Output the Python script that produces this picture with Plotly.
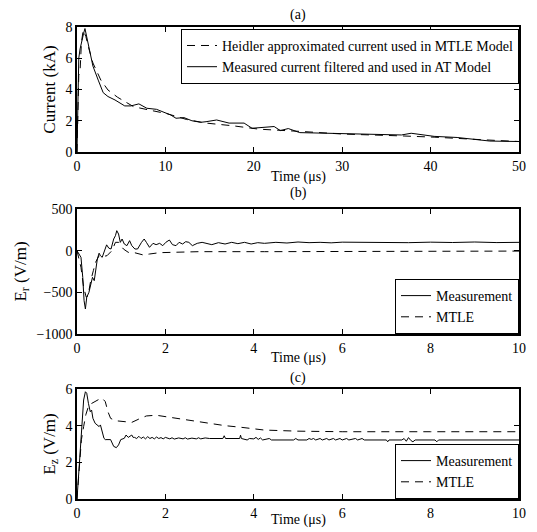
import plotly.graph_objects as go

# ---- panel (a): lightning current ----
t_a_meas = [0, 0.1, 0.2, 0.35, 0.55, 0.75, 0.9, 1.1, 1.4, 1.8, 2.4, 2.96, 3.5, 4.3, 5.4, 6.1, 7.0,
            7.9, 9.0, 9.8, 10.6, 11.2, 12.1, 13.0, 14.0, 14.6, 15.8, 17.2, 18.9, 19.8, 21.3,
            22.3, 23.0, 23.9, 25.2, 27.8, 29.6, 32.0, 34.5, 36.7, 37.8, 40.4, 43.0, 45.2,
            46.7, 50.0]
i_a_meas = [0, 3.5, 6.0, 6.6, 7.2, 7.6, 7.9, 7.4, 6.5, 5.5, 4.6, 3.8, 3.55, 3.33, 2.95, 2.95, 3.08,
            2.8, 2.73, 2.56, 2.37, 2.16, 2.2, 2.0, 1.9, 1.94, 2.05, 1.85, 1.85, 1.52, 1.6,
            1.63, 1.37, 1.5, 1.24, 1.2, 1.19, 1.15, 1.12, 1.09, 1.2, 1.0, 0.93, 0.8,
            0.7, 0.67]
t_a_heid = [0, 0.1, 0.2, 0.35, 0.5, 0.7, 1.0, 1.3, 1.8, 2.7, 3.5, 4.6, 6.4, 8.3, 10.2, 12.4,
            14.6, 17.6, 20.6, 25.2, 30.0, 36.7, 40.4, 46.0, 50.0]
i_a_heid = [0, 2.5, 4.9, 5.2, 7.0, 7.8, 7.4, 6.7, 5.7, 4.6, 3.97, 3.5, 2.9, 2.67, 2.45, 2.08,
            1.85, 1.68, 1.46, 1.32, 1.15, 1.03, 0.95, 0.78, 0.67]

# ---- panel (b): radial field ----
t_b_meas = [0, 0.09, 0.13, 0.16, 0.19, 0.22, 0.27, 0.31, 0.35, 0.39, 0.42, 0.46, 0.5, 0.53, 0.57,
            0.62, 0.67, 0.72, 0.77, 0.83, 0.87, 0.9, 0.94, 0.98, 1.02, 1.07, 1.13, 1.19, 1.24,
            1.31, 1.37, 1.46, 1.52, 1.57, 1.64, 1.72, 1.79, 1.87, 1.94, 2.01, 2.09, 2.16, 2.24,
            2.31, 2.39, 2.46, 2.53, 2.61, 2.72, 2.83, 2.94, 3.05, 3.2, 3.35, 3.5, 3.64, 3.79,
            3.94, 4.09, 4.24, 4.5, 4.75, 5.0, 5.25, 5.5, 5.75, 6.0, 6.5, 7.0, 7.5, 8.0, 8.5,
            9.0, 9.5, 10.0]
e_b_meas = [0, -80, -320, -600, -700, -560, -500, -400, -320, -360, -240, -100, -30, -60, -80,
            0, 70, 30, 20, 140, 180, 240, 200, 100, 140, 80, 60, 120, 60,
            20, 20, 100, 140, 100, 40, 88, 72, 88, 60, 100, 128, 72, 60,
            100, 80, 108, 100, 60, 88, 100, 88, 72, 96, 80, 100, 84, 100,
            80, 96, 88, 100, 92, 104, 96, 100, 94, 102, 98, 100, 96, 102, 98,
            104, 97, 100]
t_b_mtle = [0, 0.09, 0.15, 0.21, 0.25, 0.31, 0.37, 0.42, 0.5, 0.57, 0.68, 0.79, 0.87, 0.94,
            1.05, 1.16, 1.27, 1.5, 1.64, 1.87, 2.16, 2.76, 4.24, 6.0, 8.0, 10.0]
e_b_mtle = [0, -200, -440, -560, -540, -360, -240, -140, -60, -72, -60, 0, 100, 100,
            20, -20, -20, -52, -40, -24, -20, -12, -12, -8, -6, -5]

# ---- panel (c): vertical field ----
t_c_meas = [0, 0.05, 0.1, 0.15, 0.19, 0.22, 0.26, 0.3, 0.33, 0.36, 0.41, 0.46, 0.5, 0.53, 0.57,
            0.61, 0.64, 0.76, 0.83, 0.89, 0.94, 0.99, 1.07, 1.11, 1.16, 1.24, 1.27,
            1.3, 1.35, 1.4, 1.45, 1.5, 1.55, 1.6, 1.65, 1.7, 1.75, 1.8, 1.85, 1.9, 1.95, 2.0,
            2.1, 2.15, 2.2, 2.3, 2.4, 2.45, 2.5, 2.6, 2.7, 2.75, 2.8, 2.9, 3.0, 3.3, 3.33,
            3.36, 3.68, 3.7, 3.72, 3.85, 3.9, 4.0, 4.05, 4.1, 4.15, 4.2, 4.35, 4.4, 4.9, 4.95,
            5.0, 5.2, 5.25, 5.3, 5.35, 5.4, 5.5, 5.55, 5.65, 5.7, 5.8, 5.85, 5.95, 6.0, 6.1,
            6.15, 6.3, 6.35, 6.45, 6.5, 7.0, 7.03, 7.06, 7.35, 7.4, 7.45, 7.5, 7.55, 7.6, 7.65,
            8.1, 8.14, 8.18, 10.0]
e_c_meas = [0, 1.95, 4.1, 5.4, 5.85, 5.77, 5.2, 4.76, 4.85, 4.4, 4.13, 4.04, 3.95, 4.04, 3.68,
            3.31, 3.24, 3.24, 2.87, 2.8, 2.95, 3.24, 3.31, 3.49, 3.36, 3.49, 3.36,
            3.36, 3.3, 3.42, 3.3, 3.38, 3.28, 3.4, 3.3, 3.36, 3.28, 3.38, 3.3, 3.35, 3.28, 3.36,
            3.28, 3.34, 3.27, 3.33, 3.28, 3.34, 3.27, 3.32, 3.28, 3.34, 3.28, 3.33, 3.3, 3.3, 3.45,
            3.3, 3.3, 3.48, 3.3, 3.22, 3.3, 3.28, 3.36, 3.25, 3.33, 3.22, 3.3, 3.22, 3.22, 3.3,
            3.22, 3.22, 3.3, 3.25, 3.3, 3.22, 3.3, 3.22, 3.3, 3.22, 3.3, 3.22, 3.3, 3.22, 3.3,
            3.22, 3.3, 3.22, 3.3, 3.22, 3.22, 3.12, 3.22, 3.22, 3.3, 3.15, 3.35, 3.2, 3.12, 3.22,
            3.22, 3.12, 3.22, 3.22]
t_c_mtle = [0, 0.05, 0.1, 0.15, 0.2, 0.27, 0.39, 0.5, 0.57, 0.64, 0.7, 0.76, 0.87, 1.01, 1.24,
            1.39, 1.57, 1.79, 2.01, 2.31, 2.61, 2.98, 3.35, 3.72, 4.24, 5.0, 6.0, 8.0, 10.0]
e_c_mtle = [0, 1.5, 3.24, 3.95, 4.6, 5.13, 5.31, 5.44, 5.5, 5.31, 4.76, 4.4, 4.27, 4.22, 4.18,
            4.35, 4.53, 4.57, 4.49, 4.36, 4.26, 4.13, 4.0, 3.91, 3.76, 3.7, 3.67, 3.67, 3.67]

FONT = "Liberation Serif"
solid = dict(color="black", width=1)
dashed = dict(color="black", width=1, dash="8px,6px")

fig = go.Figure()
fig.add_trace(go.Scatter(x=t_a_heid, y=i_a_heid, mode="lines", line=dashed,
                         name="Heidler approximated current used in MTLE Model",
                         xaxis="x", yaxis="y", legend="legend"))
fig.add_trace(go.Scatter(x=t_a_meas, y=i_a_meas, mode="lines", line=solid,
                         name="Measured current filtered and used in AT Model",
                         xaxis="x", yaxis="y", legend="legend"))
fig.add_trace(go.Scatter(x=t_b_meas, y=e_b_meas, mode="lines", line=solid, name="Measurement",
                         xaxis="x2", yaxis="y2", legend="legend2"))
fig.add_trace(go.Scatter(x=t_b_mtle, y=e_b_mtle, mode="lines", line=dashed, name="MTLE",
                         xaxis="x2", yaxis="y2", legend="legend2"))
fig.add_trace(go.Scatter(x=t_c_meas, y=e_c_meas, mode="lines", line=solid, name="Measurement",
                         xaxis="x3", yaxis="y3", legend="legend3"))
fig.add_trace(go.Scatter(x=t_c_mtle, y=e_c_mtle, mode="lines", line=dashed, name="MTLE",
                         xaxis="x3", yaxis="y3", legend="legend3"))

axis_style = dict(showline=True, linecolor="black", linewidth=1.5, mirror="ticks",
                  ticks="inside", ticklen=5, tickwidth=1, tickcolor="black",
                  showgrid=False, zeroline=False, ticklabeloverflow="allow",
                  tickfont=dict(size=14, color="black", family=FONT))

# page body adds an 8px offset, so the figure is 8px smaller than the window
H = 472.0
def dom(top_px, bot_px):
    return [(499 - bot_px) / H, (499 - top_px) / H]

legend_style = dict(bgcolor="white", bordercolor="black", borderwidth=1,
                    font=dict(size=14, color="black", family=FONT),
                    xanchor="right", x=1, tracegroupgap=0)

fig.update_layout(
    width=529, height=524,
    margin=dict(l=68, r=11, t=19, b=33),
    paper_bgcolor="white", plot_bgcolor="white",
    font=dict(family=FONT, size=14, color="black"),
    xaxis=dict(axis_style, domain=[0, 1], range=[0, 50], dtick=10, anchor="y"),
    yaxis=dict(axis_style, domain=dom(27, 152), range=[0, 8], dtick=2, anchor="x",
               title=dict(text="Current (kA)", standoff=6)),
    xaxis2=dict(axis_style, domain=[0, 1], range=[0, 10], dtick=2, anchor="y2"),
    yaxis2=dict(axis_style, domain=dom(209, 334), range=[-1000, 500], dtick=500, anchor="x2",
                title=dict(text="E<sub>r</sub> (V/m)", standoff=6)),
    xaxis3=dict(axis_style, domain=[0, 1], range=[0, 10], dtick=2, anchor="y3"),
    yaxis3=dict(axis_style, domain=dom(389, 499), range=[0, 6], dtick=2, anchor="x3",
                title=dict(text="E<sub>z</sub> (V/m)", standoff=6)),
    legend=dict(legend_style, y=dom(27, 152)[1] - 0.004, yanchor="top"),
    legend2=dict(legend_style, y=dom(209, 334)[0], yanchor="bottom"),
    legend3=dict(legend_style, y=dom(389, 499)[0], yanchor="bottom"),
)

for txt, py in [("(a)", 15), ("(b)", 193), ("(c)", 378),
                ("Time (\u03bcs)", 177), ("Time (\u03bcs)", 358), ("Time (\u03bcs)", 520)]:
    fig.add_annotation(text=txt, x=0.5, y=(499 - py) / H, xref="paper", yref="paper",
                       xanchor="center", yanchor="middle", showarrow=False,
                       font=dict(size=14, color="black", family=FONT))

fig.write_html("out.html")
